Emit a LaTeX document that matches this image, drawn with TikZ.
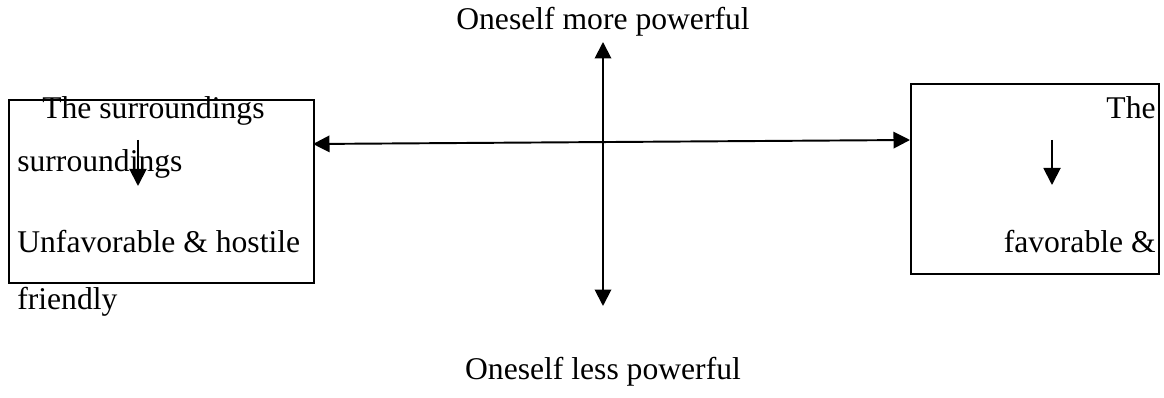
\documentclass[tikz,border=0pt]{standalone}
\usepackage{fontspec}
\setmainfont{Liberation Serif}
\usetikzlibrary{arrows.meta,positioning}
\tikzset{
  panel/.style={draw=black, line width=0.9pt, anchor=north west, inner sep=0pt},
  axis/.style={line width=1.1pt, {Triangle[length=3.3mm,width=3.3mm]}-{Triangle[length=3.3mm,width=3.3mm]}},
  pointer/.style={line width=1.1pt, -{Triangle[length=3.4mm,width=3.4mm]}},
  caption/.style={font=\fontsize{18}{21}\selectfont, inner sep=0pt},
  word/.style={caption, anchor=base west}
}

\begin{document}
\begin{tikzpicture}[x=0.02cm,y=-0.02cm]
\path[use as bounding box] (0,0) rectangle (1164,398);

% the two panels
\node[panel, minimum width=6.1cm, minimum height=3.66cm] (hostile) at (8,99) {};
\node[panel, minimum width=4.96cm, minimum height=3.8cm] (friendly) at (910,83) {};

% axis labels
\node[caption] (more) at (603,22) {Oneself more powerful};
\node[caption] (less) at (603,372) {Oneself less powerful};

% left panel text
\node[word] (lhead) at (42,119) {The surroundings};
\node[word] (lsub) at (17,172) {surroundings};
\node[word] (lbad) at (17,253) {Unfavorable \& hostile};
\node[word] (lfriend) at (17,310) {friendly};

% right panel text
\node[caption, anchor=base east] (rhead) at (1156,119) {The};
\node[caption, anchor=base east] (rgood) at (1156,253) {favorable \&};

% axes
\coordinate (top) at (603,42);
\coordinate (bottom) at (603,306);
\coordinate (lmid) at (313,144);
\coordinate (rmid) at (910,140);
\draw[axis] (top) -- (bottom);
\draw[axis] (lmid) -- (rmid);

% small arrows inside panels
\coordinate (ltip0) at (138,140);
\coordinate (ltip1) at (138,186);
\coordinate (rtip0) at (1052,140);
\coordinate (rtip1) at (1052,185);
\draw[pointer] (ltip0) -- (ltip1);
\draw[pointer] (rtip0) -- (rtip1);
\end{tikzpicture}
\end{document}
